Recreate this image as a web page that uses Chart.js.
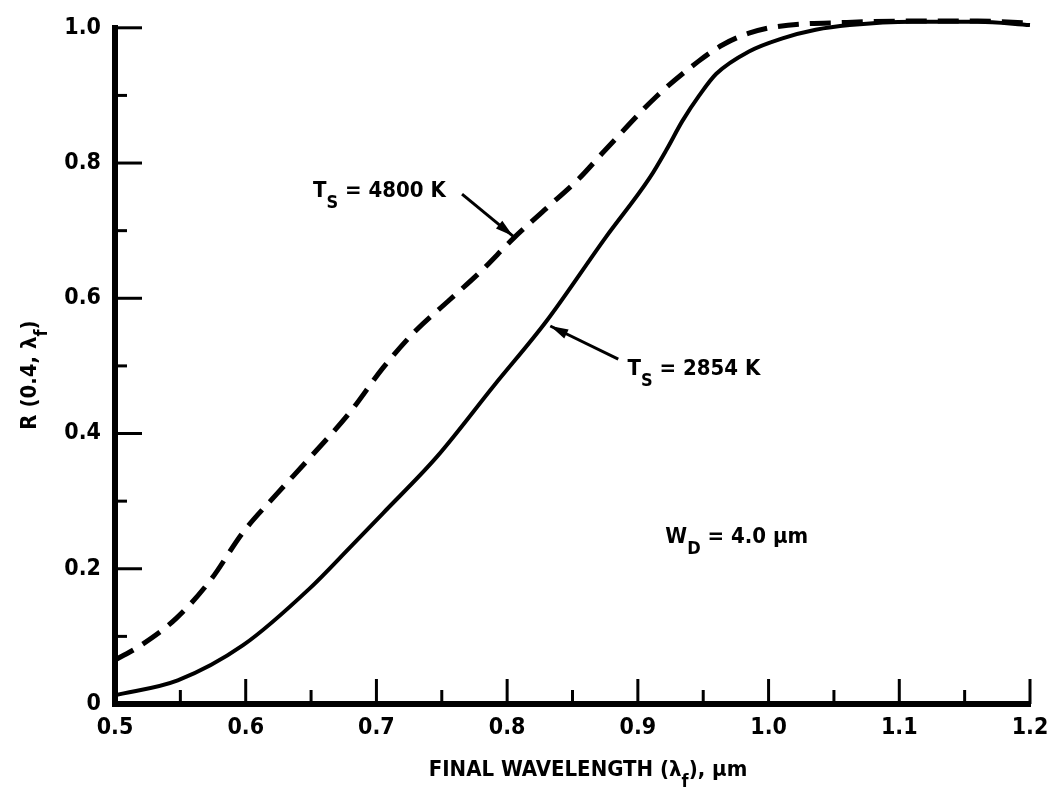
<!DOCTYPE html>
<html lang="en">
<head>
  <meta charset="UTF-8" />
  <title>R(0.4, λf) vs final wavelength</title>
  <script src="https://cdn.jsdelivr.net/npm/chart.js@4.4.3/dist/chart.umd.min.js"></script>
  <style>
    body { margin: 0; background: #ffffff; }
    canvas { display: block; }
  </style>
</head>
<body>
  <canvas id="chartR" width="1059" height="796"></canvas>

  <script>
    // T_S = 4800 K (dashed)
    const wl4800 = [0.50, 0.52, 0.547, 0.573, 0.598, 0.624, 0.649, 0.68, 0.705, 0.73, 0.755, 0.78, 0.805,
                    0.83, 0.855, 0.874, 0.914, 0.946, 0.965, 0.985, 1.007, 1.06, 1.11, 1.16, 1.20];
    const r4800  = [0.065, 0.087, 0.127, 0.183, 0.254, 0.311, 0.364, 0.432, 0.497, 0.552, 0.596, 0.640, 0.689,
                    0.733, 0.777, 0.817, 0.898, 0.950, 0.975, 0.992, 1.002, 1.008, 1.010, 1.010, 1.007];

    // T_S = 2854 K (solid)
    const wl2854 = [0.50, 0.548, 0.598, 0.649, 0.68, 0.705, 0.746, 0.79, 0.83, 0.875, 0.909, 0.922, 0.934,
                    0.947, 0.96, 0.985, 1.01, 1.036, 1.062, 1.11, 1.16, 1.20];
    const r2854  = [0.013, 0.035, 0.087, 0.171, 0.232, 0.282, 0.365, 0.471, 0.566, 0.689, 0.778, 0.820, 0.862,
                    0.900, 0.932, 0.965, 0.984, 0.997, 1.004, 1.009, 1.009, 1.004];

    // inward tick marks
    const xMajor = [0.6, 0.7, 0.8, 0.9, 1.0, 1.1, 1.2];
    const xMinor = [0.55, 0.65, 0.75, 0.85, 0.95, 1.05, 1.15];
    const yMajor = [0.2, 0.4, 0.6, 0.8, 1.0];
    const yMinor = [0.1, 0.3, 0.5, 0.7, 0.9];

    const FONT = "'DejaVu Sans Condensed', 'Liberation Sans Narrow', Arial, sans-serif";

    function pts(xs, ys) { return xs.map((x, i) => ({ x: x, y: ys[i] })); }

    // draw text made of [text, isSubscript] pieces, left aligned at x (or centered)
    function drawParts(ctx, parts, x, y, size, center) {
      const mainFont = 'bold ' + size + 'px ' + FONT;
      const subFont = 'bold ' + Math.round(size * 0.8) + 'px ' + FONT;
      let total = 0;
      parts.forEach(p => {
        ctx.font = p[1] ? subFont : mainFont;
        total += ctx.measureText(p[0]).width;
      });
      let cx = center ? x - total / 2 : x;
      ctx.textAlign = 'left';
      ctx.textBaseline = 'alphabetic';
      parts.forEach(p => {
        ctx.font = p[1] ? subFont : mainFont;
        ctx.fillText(p[0], cx, p[1] ? y + size * 0.5 : y);
        cx += ctx.measureText(p[0]).width;
      });
    }

    function arrow(ctx, x1, y1, x2, y2) {
      ctx.beginPath();
      ctx.moveTo(x1, y1);
      ctx.lineTo(x2, y2);
      ctx.stroke();
      const a = Math.atan2(y2 - y1, x2 - x1);
      ctx.beginPath();
      ctx.moveTo(x2, y2);
      ctx.lineTo(x2 - 18 * Math.cos(a) + 5 * Math.sin(a), y2 - 18 * Math.sin(a) - 5 * Math.cos(a));
      ctx.lineTo(x2 - 18 * Math.cos(a) - 5 * Math.sin(a), y2 - 18 * Math.sin(a) + 5 * Math.cos(a));
      ctx.closePath();
      ctx.fill();
    }

    const decorations = {
      id: 'decorations',
      afterDraw(chart) {
        const ctx = chart.ctx;
        const xs = chart.scales.x, ys = chart.scales.y;
        const left = chart.chartArea.left, bottom = chart.chartArea.bottom;
        ctx.save();
        ctx.strokeStyle = '#000';
        ctx.fillStyle = '#000';
        ctx.lineWidth = 3;

        // ticks pointing into the plot
        const tick = (x1, y1, x2, y2) => { ctx.beginPath(); ctx.moveTo(x1, y1); ctx.lineTo(x2, y2); ctx.stroke(); };
        xMajor.forEach(v => { const p = xs.getPixelForValue(v); tick(p, bottom, p, bottom - 25); });
        xMinor.forEach(v => { const p = xs.getPixelForValue(v); tick(p, bottom, p, bottom - 14); });
        yMajor.forEach(v => { const p = ys.getPixelForValue(v); tick(left, p, left + 27, p); });
        yMinor.forEach(v => { const p = ys.getPixelForValue(v); tick(left, p, left + 12, p); });

        // curve labels
        ctx.lineWidth = 3;
        arrow(ctx, xs.getPixelForValue(0.7655), ys.getPixelForValue(0.754),
                   xs.getPixelForValue(0.8045), ys.getPixelForValue(0.692));
        arrow(ctx, xs.getPixelForValue(0.885), ys.getPixelForValue(0.510),
                   xs.getPixelForValue(0.833), ys.getPixelForValue(0.559));

        drawParts(ctx, [['T', false], ['S', true], [' = 4800 K', false]],
                  xs.getPixelForValue(0.6515), ys.getPixelForValue(0.75), 22, false);
        drawParts(ctx, [['T', false], ['S', true], [' = 2854 K', false]],
                  xs.getPixelForValue(0.892), ys.getPixelForValue(0.487), 22, false);
        drawParts(ctx, [['W', false], ['D', true], [' = 4.0 μm', false]],
                  xs.getPixelForValue(0.921), ys.getPixelForValue(0.238), 22, false);

        // axis titles
        drawParts(ctx, [['FINAL WAVELENGTH (λ', false], ['f', true], ['), μm', false]],
                  588, 776, 22, true);
        ctx.translate(36, 375);
        ctx.rotate(-Math.PI / 2);
        drawParts(ctx, [['R (0.4, λ', false], ['f', true], [')', false]], 0, 0, 22, true);
        ctx.restore();
      }
    };

    new Chart(document.getElementById('chartR').getContext('2d'), {
      type: 'line',
      data: {
        datasets: [
          {
            label: 'TS = 4800 K',
            data: pts(wl4800, r4800),
            borderColor: '#000',
            borderWidth: 5,
            borderDash: [21, 11],
            pointRadius: 0,
            cubicInterpolationMode: 'monotone',
            clip: false
          },
          {
            label: 'TS = 2854 K',
            data: pts(wl2854, r2854),
            borderColor: '#000',
            borderWidth: 4,
            pointRadius: 0,
            cubicInterpolationMode: 'monotone',
            clip: false
          }
        ]
      },
      options: {
        responsive: false,
        animation: false,
        layout: { padding: { left: 0, top: 26, right: 29, bottom: 0 } },
        plugins: { legend: { display: false }, tooltip: { enabled: false } },
        scales: {
          x: {
            type: 'linear',
            min: 0.5,
            max: 1.2,
            afterFit(s) { s.height = 92; },
            ticks: {
              stepSize: 0.1,
              callback: v => v.toFixed(1),
              color: '#000',
              padding: 10,
              maxRotation: 0,
              autoSkip: false,
              font: { family: FONT, size: 23, weight: 'bold' }
            },
            grid: { display: false, drawTicks: false },
            border: { display: true, color: '#000', width: 6 }
          },
          y: {
            type: 'linear',
            min: 0,
            max: 1.0,
            afterFit(s) { s.width = 115; },
            ticks: {
              stepSize: 0.2,
              callback: v => (v === 0 ? '0' : v.toFixed(1)),
              color: '#000',
              padding: 14,
              font: { family: FONT, size: 23, weight: 'bold' }
            },
            grid: { display: false, drawTicks: false },
            border: { display: true, color: '#000', width: 6 }
          }
        }
      },
      plugins: [decorations]
    });
  </script>
</body>
</html>
